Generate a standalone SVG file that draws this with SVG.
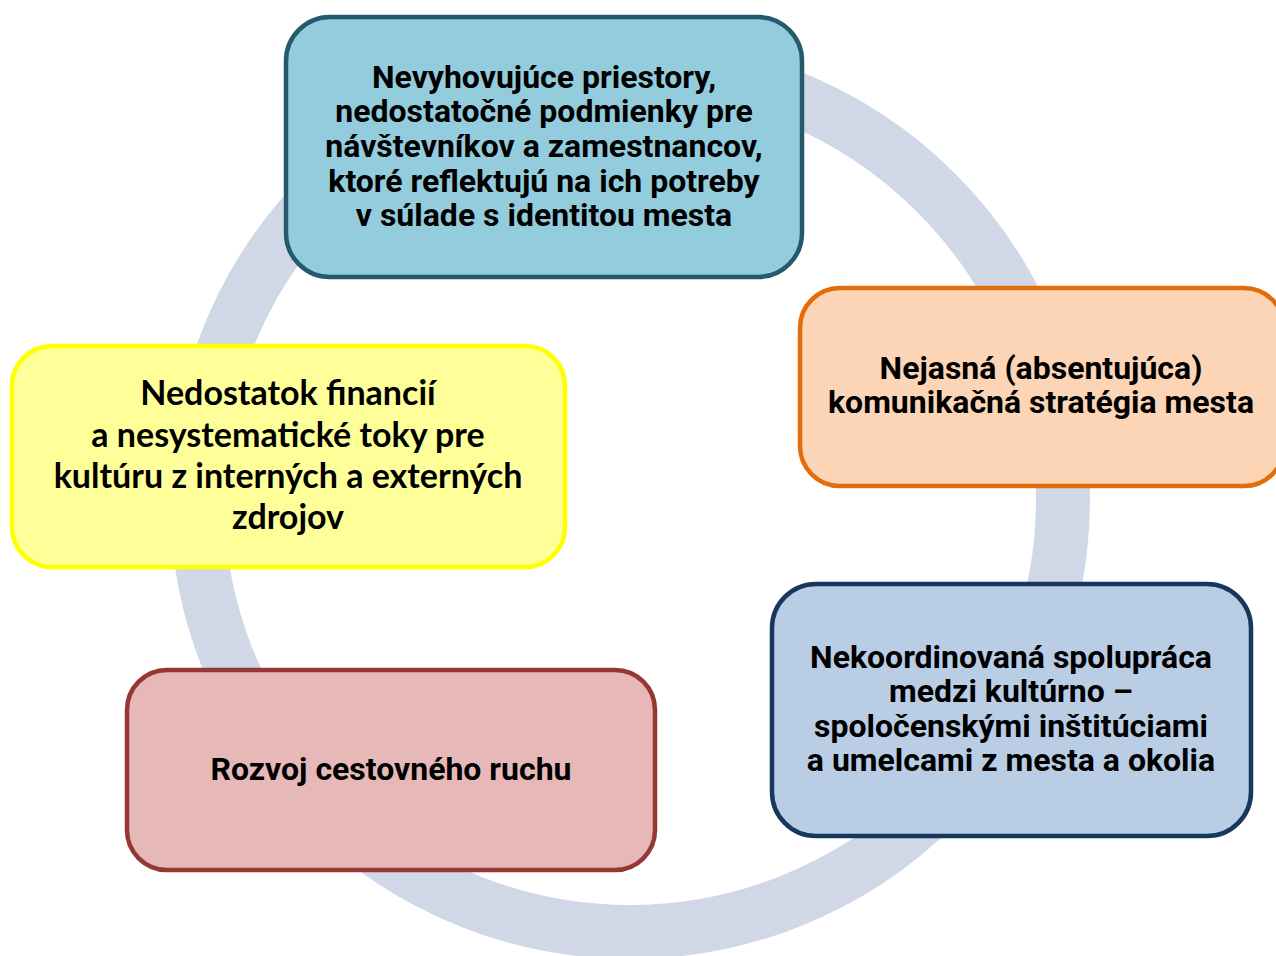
<svg xmlns="http://www.w3.org/2000/svg" width="1276" height="956" viewBox="0 0 1276 956">
<style>
.box{stroke-width:4.5}
.t{font-family:Roboto,"Liberation Sans",sans-serif;font-weight:bold;font-size:32px;fill:#000;text-anchor:middle}
.c{font-family:Lato,"Liberation Sans",sans-serif;font-weight:bold;font-size:34px;fill:#000;text-anchor:middle}
</style>
<rect width="1276" height="956" fill="#fff"/>
<g id="ring"><circle cx="630" cy="499" r="433" fill="none" stroke="#d0d8e8" stroke-width="54"/></g>
<g id="connectors"></g>
<g id="n-top">
<rect class="box" x="286" y="17" width="516" height="260" rx="44" fill="#93cddd" stroke="#245a6b"/>
<text class="t" x="544" y="88">Nevyhovujúce priestory,</text>
<text class="t" x="544" y="122">nedostatočné podmienky pre</text>
<text class="t" x="544" y="157">návštevníkov a zamestnancov,</text>
<text class="t" x="544" y="192">ktoré reflektujú na ich potreby</text>
<text class="t" x="544" y="226">v súlade s identitou mesta</text>
</g>
<g id="n-right">
<rect class="box" x="800" y="288" width="484" height="198" rx="40" fill="#fbd5b5" stroke="#e46c0a"/>
<text class="t" x="1041" y="379">Nejasná (absentujúca)</text>
<text class="t" x="1041" y="413">komunikačná stratégia mesta</text>
</g>
<g id="n-left">
<rect class="box" x="12" y="346" width="553" height="221" rx="40" fill="#ffff99" stroke="#ffff00"/>
<text class="c" x="288" y="405">Nedostatok financií</text>
<text class="c" x="288" y="447">a nesystematické toky pre</text>
<text class="c" x="288" y="488">kultúru z interných a externých</text>
<text class="c" x="288" y="529">zdrojov</text>
</g>
<g id="n-bottomright">
<rect class="box" x="772" y="584" width="479" height="252" rx="44" fill="#b9cde5" stroke="#17375e"/>
<text class="t" x="1011" y="668">Nekoordinovaná spolupráca</text>
<text class="t" x="1011" y="702">medzi kultúrno –</text>
<text class="t" x="1011" y="737">spoločenskými inštitúciami</text>
<text class="t" x="1011" y="771">a umelcami z mesta a okolia</text>
</g>
<g id="n-bottomleft">
<rect class="box" x="127" y="670" width="528" height="200" rx="40" fill="#e6b9b8" stroke="#953735"/>
<text class="t" x="391" y="780">Rozvoj cestovného ruchu</text>
</g>
</svg>
